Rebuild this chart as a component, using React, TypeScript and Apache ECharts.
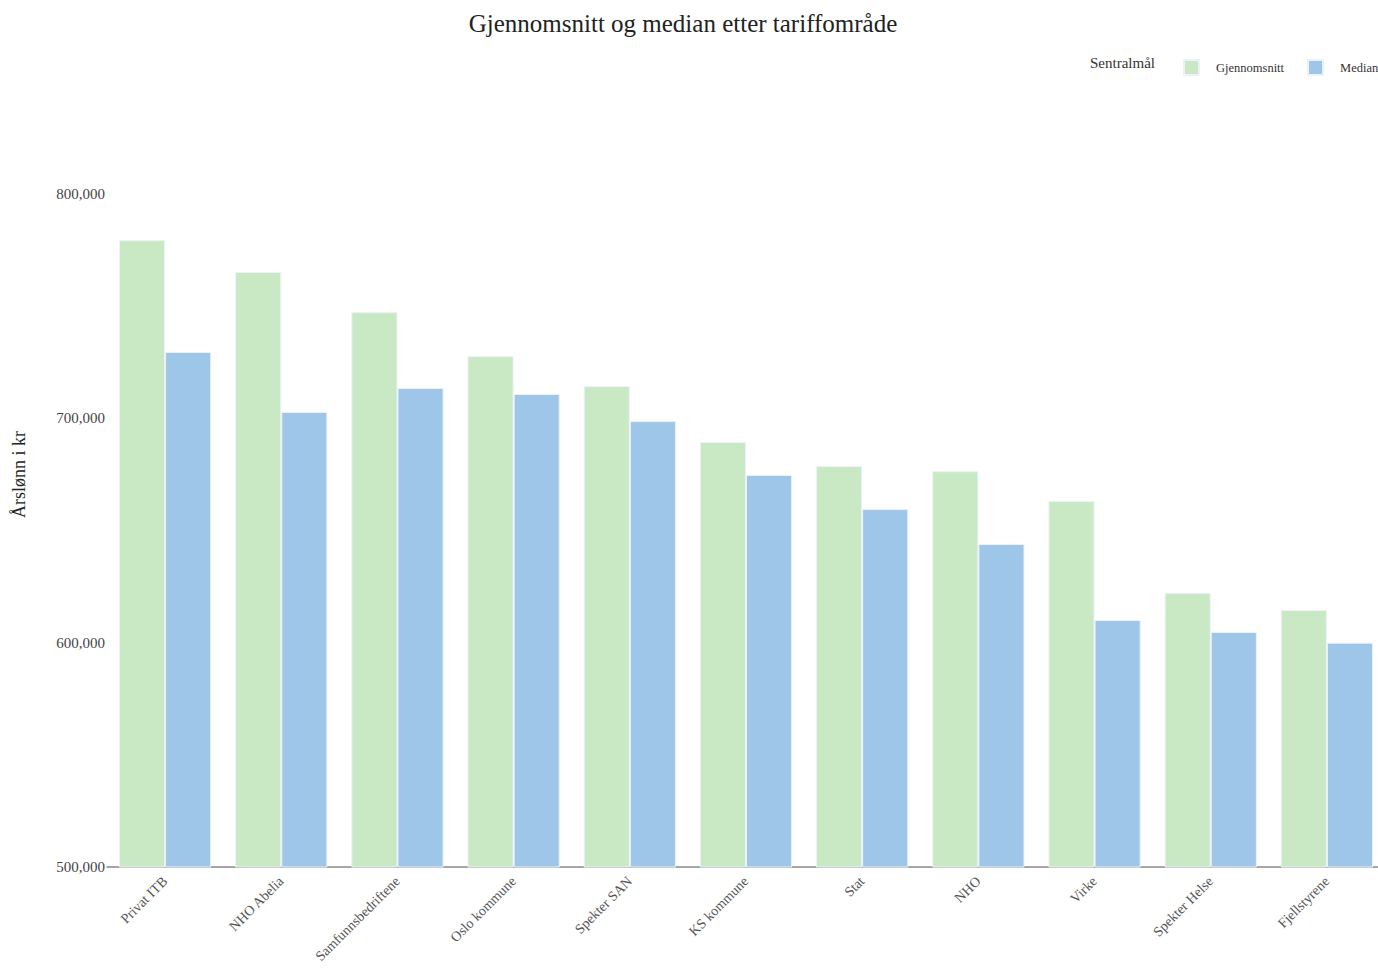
import React, { useEffect, useRef } from "react";
import * as echarts from "echarts";

const categories = [
  "Privat ITB",
  "NHO Abelia",
  "Samfunnsbedriftene",
  "Oslo kommune",
  "Spekter SAN",
  "KS kommune",
  "Stat",
  "NHO",
  "Virke",
  "Spekter Helse",
  "Fjellstyrene",
];
const gjennomsnitt = [779500, 765300, 747400, 727800, 714400, 689500, 678800, 676500, 663200, 622200, 614600];
const median = [729600, 702900, 713600, 710900, 698800, 674800, 659600, 644000, 610100, 604800, 600000];
const seriesNames = ["Gjennomsnitt", "Median"];
const titleText = "Gjennomsnitt og median etter tariffområde";
const legendTitle = "Sentralmål";
const yAxisName = "Årslønn i kr";

const FONT = "'Liberation Serif', 'Times New Roman', serif";

export default function App() {
  const ref = useRef<HTMLDivElement>(null);
  useEffect(() => {
    if (!ref.current) return;
    const chart = echarts.init(ref.current, undefined, { renderer: "svg" });
    chart.setOption({
      animation: false,
      textStyle: { fontFamily: FONT },
      graphic: [
        {
          type: "text",
          x: 683,
          y: 23,
          style: {
            text: titleText,
            font: `25px ${FONT}`,
            fill: "#222",
            textAlign: "center",
            textVerticalAlign: "middle",
          },
        },
        {
          type: "text",
          x: 1090,
          y: 63,
          style: {
            text: legendTitle,
            font: `15px ${FONT}`,
            fill: "#333",
            textAlign: "left",
            textVerticalAlign: "middle",
          },
        },
      ],
      legend: {
        left: 1183,
        top: 59,
        padding: 0,
        itemWidth: 15,
        itemHeight: 15,
        itemGap: 23,
        icon: "rect",
        textStyle: { fontFamily: FONT, fontSize: 12.5, color: "#333", padding: [0, 0, 0, 12] },
        data: seriesNames,
      },
      grid: { left: 107, right: 35, top: 82, bottom: 102, containLabel: false },
      xAxis: {
        type: "category",
        data: categories,
        axisLine: { show: true, lineStyle: { color: "#888", width: 1.5 } },
        axisTick: { show: false },
        axisLabel: {
          rotate: 45,
          interval: 0,
          margin: 12,
          color: "#555",
          fontSize: 14,
          fontFamily: FONT,
        },
      },
      yAxis: {
        type: "value",
        min: 500000,
        max: 850000,
        interval: 100000,
        name: yAxisName,
        nameLocation: "middle",
        nameRotate: 90,
        nameGap: 79,
        nameTextStyle: { fontFamily: FONT, fontSize: 18, color: "#222" },
        axisLine: { show: false },
        axisTick: { show: false },
        splitLine: { show: false },
        axisLabel: {
          color: "#444",
          fontSize: 15,
          fontFamily: FONT,
          margin: 2,
          formatter: (v: number) => (v % 100000 === 0 ? v.toLocaleString("en-US") : ""),
        },
      },
      series: [
        {
          name: seriesNames[0],
          type: "bar",
          data: gjennomsnitt,
          barGap: "0%",
          barCategoryGap: "20.6%",
          itemStyle: { color: "#c9e9c4", borderColor: "#eef1fa", borderWidth: 1 },
        },
        {
          name: seriesNames[1],
          type: "bar",
          data: median,
          itemStyle: { color: "#9dc6e8", borderColor: "#eef1fa", borderWidth: 1 },
        },
      ],
    });
    return () => chart.dispose();
  }, []);
  return (
    <div style={{ position: "fixed", left: 0, top: 0, width: 1378, height: 969, overflow: "hidden", background: "#fff" }}>
      <div ref={ref} style={{ width: 1420, height: 969 }} />
    </div>
  );
}
